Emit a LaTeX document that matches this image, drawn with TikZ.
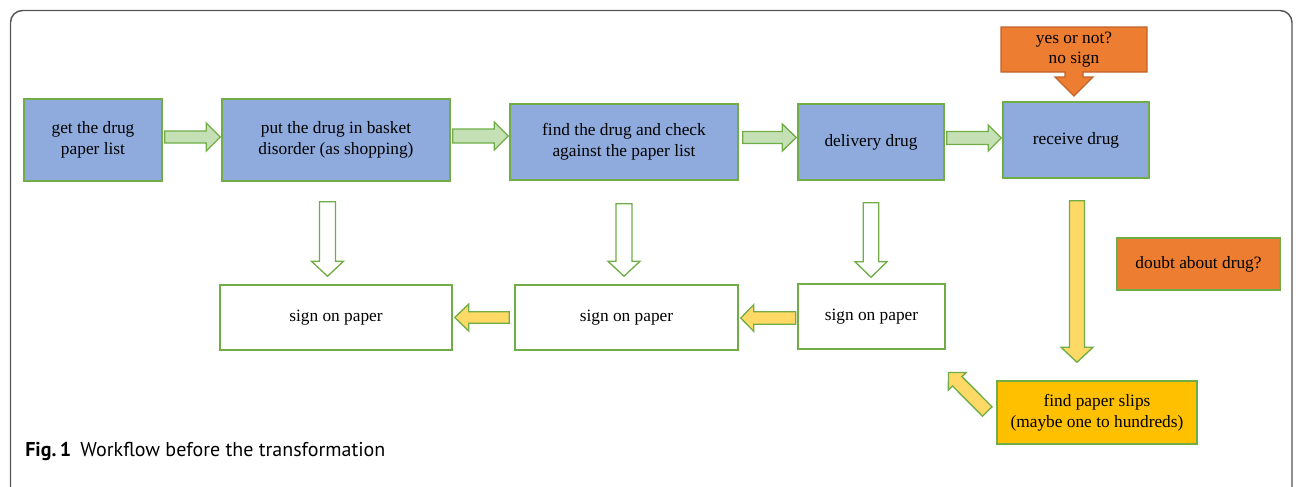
\documentclass[tikz,border=0pt]{standalone}
\usepackage{fontspec}
\setmainfont{Liberation Serif}
\newfontfamily\capfont{PT Sans}
\usetikzlibrary{calc}
\pgfdeclarelayer{bg}
\pgfsetlayers{bg,main}
\definecolor{boxblue}{HTML}{8FAADC}
\definecolor{gborder}{HTML}{70AD47}
\definecolor{garrowfill}{HTML}{C5E0B4}
\definecolor{orng}{HTML}{ED7D31}
\definecolor{orngdark}{HTML}{C0642B}
\definecolor{yarrowfill}{HTML}{FFD966}
\definecolor{goldfill}{HTML}{FFC000}
\definecolor{framegray}{HTML}{555555}
% block arrow: style, tail, tip, shaft half width, head half width, head length (px)
\newcommand\blockarrow[6]{%
  \coordinate (baT) at (#2);
  \coordinate (baH) at (#3);
  \coordinate (baB) at ($(baH)!#6*0.75pt!(baT)$);
  \path[#1] ($(baT)!#4*0.75pt!90:(baH)$) -- ($(baB)!#4*0.75pt!90:(baH)$)
    -- ($(baB)!#5*0.75pt!90:(baH)$) -- (baH) -- ($(baB)!#5*0.75pt!-90:(baH)$)
    -- ($(baB)!#4*0.75pt!-90:(baH)$) -- ($(baT)!#4*0.75pt!-90:(baH)$) -- cycle;
}
\tikzset{
  sz/.style 2 args={minimum width=#1*0.75pt, minimum height=#2*0.75pt},
  boxbase/.style={draw=gborder, line width=1.1pt, align=center, inner sep=0pt,
    font=\fontsize{13}{15.5}\selectfont, text=black},
  bluebox/.style={boxbase, fill=boxblue},
  whitebox/.style={boxbase, fill=white},
  orangebox/.style={boxbase, fill=orng},
  goldbox/.style={boxbase, fill=goldfill},
  garrowstyle/.style={fill=garrowfill, draw=gborder, line width=1pt},
  hollowarrow/.style={fill=white, draw=gborder, line width=1pt},
  yarrowstyle/.style={fill=yarrowfill, draw=gborder, line width=1pt},
}
\begin{document}
\begin{tikzpicture}[x=0.75pt, y=-0.75pt]
\useasboundingbox (0,0) rectangle (1296,486);
\clip (0,0) rectangle (1296,486);
\draw[framegray, line width=1.1pt, rounded corners=9pt] (10.5,10.5) rectangle (1292,505);

% top row
\node[bluebox, sz={138}{82}] (n1) at (93,140) {\raisebox{-2pt}{\begin{tabular}{@{}c@{}}get the drug\\paper list\end{tabular}}};
\node[bluebox, sz={228}{82}] (n2) at (336,140) {\raisebox{-2pt}{\begin{tabular}{@{}c@{}}put the drug in basket\\disorder (as shopping)\end{tabular}}};
\node[bluebox, sz={228}{76}] (n3) at (624,142) {find the drug and check\\against the paper list};
\node[bluebox, sz={146}{76}] (n4) at (871,142) {delivery drug};
\node[bluebox, sz={146}{76}] (n5) at (1076,140) {receive drug};

% callout
\node[boxbase, draw=none, outer sep=0pt, sz={146}{45}] (q) at (1074,49.5) {\raisebox{-3pt}{\begin{tabular}{@{}c@{}}yes or not?\\no sign\end{tabular}}};
\begin{pgfonlayer}{bg}
\path[fill=orng, draw=orngdark, line width=1pt] (q.north west) -- (q.north east) -- (q.south east)
  -- ($(q.south)+(9,0)$) -- ($(q.south)+(9,5)$) -- ($(q.south)+(19,5)$) -- ($(q.south)+(0,24)$)
  -- ($(q.south)+(-19,5)$) -- ($(q.south)+(-9,5)$) -- ($(q.south)+(-9,0)$) -- (q.south west) -- cycle;
\end{pgfonlayer}

% bottom row
\node[whitebox, sz={232}{65}] (s1) at (336,317.5) {sign on paper};
\node[whitebox, sz={223}{65}] (s2) at (626.5,317.5) {sign on paper};
\node[whitebox, sz={147}{65}] (s3) at (871.5,316.5) {sign on paper};
\node[orangebox, sz={163}{52}] (dq) at (1198.5,264) {doubt about drug?};
\node[goldbox, sz={200}{63}] (fp) at (1097,412.5) {find paper slips\\(maybe one to hundreds)};

% green arrows
\blockarrow{garrowstyle}{$(n1.east)+(2,-3)$}{$(n2.west)+(-1,-3)$}{6}{14}{14}
\blockarrow{garrowstyle}{$(n2.east)+(2,-4)$}{$(n3.west)+(-1,-6)$}{7}{14}{14}
\blockarrow{garrowstyle}{$(n3.east)+(4,-4.5)$}{$(n4.west)+(-1,-4.5)$}{6}{13.5}{14}
\blockarrow{garrowstyle}{$(n4.east)+(2,-4)$}{$(n5.west)+(-1,-2)$}{6.5}{13}{13}

% hollow down arrows
\blockarrow{hollowarrow}{$(n2.south)+(-8.5,20)$}{$(s1.north)+(-8.5,-8)$}{8}{16}{15}
\blockarrow{hollowarrow}{$(n3.south)+(0,23)$}{$(s2.north)+(-2.5,-8)$}{8}{16}{15}
\blockarrow{hollowarrow}{$(n4.south)+(0,22)$}{$(s3.north)+(-0.5,-6)$}{7.7}{16}{15.5}

% yellow arrows
\blockarrow{yarrowstyle}{$(s2.west)+(-5,0)$}{$(s1.east)+(2,0)$}{5.8}{13.5}{14}
\blockarrow{yarrowstyle}{$(s3.west)+(-1.5,1.5)$}{$(s2.east)+(2,0.5)$}{6.2}{13.3}{13}
\blockarrow{yarrowstyle}{$(n5.south)+(1,22)$}{$(fp.north)+(-20,-18)$}{7.5}{16}{15}
\blockarrow{yarrowstyle}{$(fp.west)+(-9,-1)$}{$(s3.south east)+(2.7,22.7)$}{6.7}{12.5}{12.5}

% caption
\node[anchor=base west, inner sep=0pt, font=\capfont\fontsize{15}{17}\selectfont] (cap) at (25,456)
  {\textbf{Fig.\,1}\hspace{7pt}Workflow before the transformation};
\end{tikzpicture}
\end{document}
